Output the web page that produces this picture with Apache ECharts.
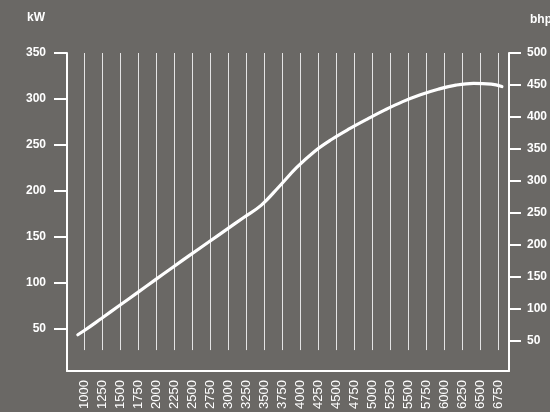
<!DOCTYPE html>
<html>
<head>
<meta charset="utf-8">
<script src="https://cdn.jsdelivr.net/npm/echarts@6/dist/echarts.min.js"></script>
<style>html,body{margin:0;padding:0;background:#6a6865;}#c{width:550px;height:412px;}</style>
</head>
<body>
<div id="c"></div>
<script>
const rpmCategories = ['1000','1250','1500','1750','2000','2250','2500','2750','3000','3250','3500','3750','4000','4250','4500','4750','5000','5250','5500','5750','6000','6250','6500','6750'];
const rpm = [913, 1000, 1250, 1500, 1750, 2000, 2250, 2500, 2750, 3000, 3250, 3500, 3750, 4000, 4250, 4500, 4750, 5000, 5250, 5500, 5750, 6000, 6250, 6500, 6750, 6900];
const powerKW = [43, 47.3, 61, 74.8, 88.6, 102.5, 116.3, 130, 143.5, 157, 170.5, 184, 204, 225, 242.5, 256, 267.5, 278, 288, 297, 304.5, 310.5, 315, 317, 316, 313.5];
const kwTicks = [50, 100, 150, 200, 250, 300, 350];
const bhpTicks = [50, 100, 150, 200, 250, 300, 350, 400, 450, 500];

const FONT = '"Liberation Sans", Arial, sans-serif';
const txt = { color: '#ffffff', fontFamily: FONT, fontSize: 12, fontWeight: 'bold' };
const chart = echarts.init(document.getElementById('c'), null, { renderer: 'canvas' });
chart.setOption({
  backgroundColor: '#6a6865',
  animation: false,
  grid: [
    { left: 84, right: 52, top: 53, bottom: 59 },
    { left: 67, right: 34, top: 53, bottom: 41 }
  ],
  xAxis: [
    { type: 'category', gridIndex: 0, data: rpmCategories, boundaryGap: false,
      axisLine: { show: false }, axisTick: { show: false },
      splitLine: { show: true, lineStyle: { color: '#e4e4e4', width: 1 } },
      axisLabel: { rotate: 90, margin: 30, interval: 0, color: '#ffffff', fontFamily: FONT, fontSize: 13 } },
    { type: 'value', gridIndex: 1, min: 760, max: 7000,
      axisLine: { show: true, lineStyle: { color: '#ffffff', width: 2 } },
      axisTick: { show: false }, axisLabel: { show: false }, splitLine: { show: false } }
  ],
  yAxis: [
    { type: 'value', gridIndex: 1, position: 'left', min: 3.5, max: 350,
      axisLine: { show: true, lineStyle: { color: '#ffffff', width: 2 } },
      axisTick: { show: true, length: 13, customValues: kwTicks, lineStyle: { color: '#ffffff', width: 2 } },
      axisLabel: Object.assign({ customValues: kwTicks, margin: 21 }, txt),
      splitLine: { show: false } },
    { type: 'value', gridIndex: 1, position: 'right', min: 3, max: 500,
      axisLine: { show: true, lineStyle: { color: '#ffffff', width: 2 } },
      axisTick: { show: true, length: 12, customValues: bhpTicks, lineStyle: { color: '#ffffff', width: 2 } },
      axisLabel: Object.assign({ customValues: bhpTicks, margin: 18 }, txt),
      splitLine: { show: false } },
    { type: 'value', gridIndex: 0, show: false, min: 0, max: 1 }
  ],
  graphic: [
    { type: 'text', left: 27, top: 12, style: { text: 'kW', fill: '#ffffff', font: 'bold 12px ' + FONT } },
    { type: 'text', left: 530, top: 14, style: { text: 'bhp', fill: '#ffffff', font: 'bold 12px ' + FONT } }
  ],
  series: [
    { type: 'line', xAxisIndex: 1, yAxisIndex: 0, data: rpm.map((r, i) => [r, powerKW[i]]),
      smooth: 0.4, showSymbol: false, symbol: 'none',
      lineStyle: { color: '#ffffff', width: 3.2, cap: 'round' } }
  ]
});
</script>
</body>
</html>
